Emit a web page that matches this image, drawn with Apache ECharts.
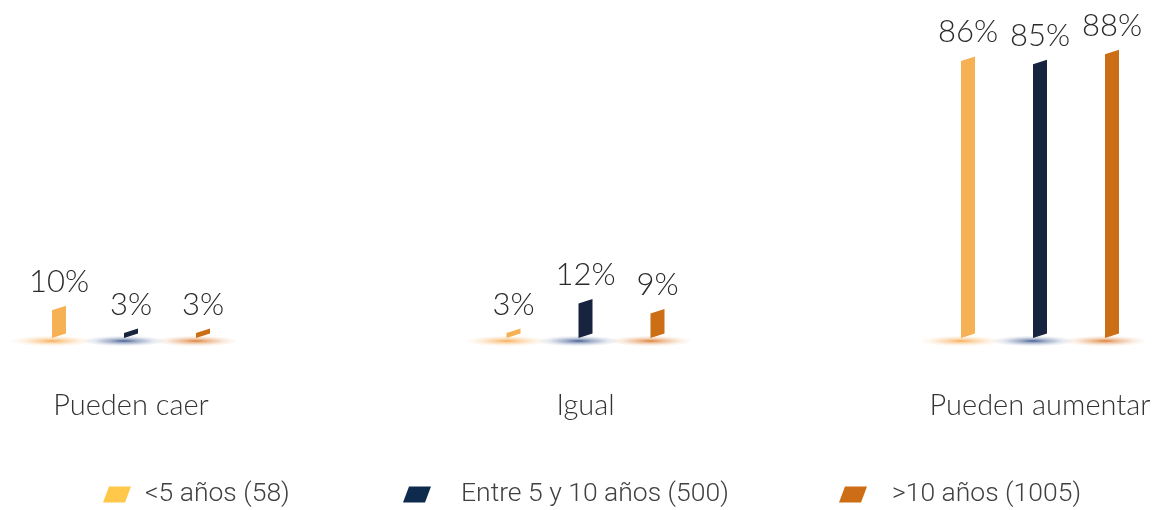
<!DOCTYPE html>
<html>
<head>
<meta charset="utf-8">
<script src="https://cdn.jsdelivr.net/npm/echarts@6/dist/echarts.min.js"></script>
<style>
  html, body { margin: 0; padding: 0; background: #ffffff; }
  #chart { width: 1161px; height: 510px; }
</style>
</head>
<body>
<div id="chart"></div>
<script>
// Expectativas por antigüedad del cliente
const categories = ['Pueden caer', 'Igual', 'Pueden aumentar'];
const seriesNames = ['<5 años (58)', 'Entre 5 y 10 años (500)', '>10 años (1005)'];
const menos5 = [10, 3, 86];
const entre5y10 = [3, 12, 85];
const mas10 = [3, 9, 88];

const Y_MIN = 1.5;
const Y_MAX = 100;
const BAR_W = 14;
const SKEW = 4.5;
const GROUP_OFFSETS = [-72, 0, 72];
const BAR_COLORS = ['#F6B155', '#17233F', '#CC6E15'];
const LEGEND_COLORS = ['#FFC84B', '#0E2A4D', '#CD6E16'];
const GLOW_RGB = ['245,160,60', '40,70,130', '215,110,25'];

const chart = echarts.init(document.getElementById('chart'), null, { renderer: 'canvas' });

function toPoints(values) {
  return values.map((v, i) => [i, v]);
}

function makeRender(idx) {
  const offset = GROUP_OFFSETS[idx];
  const color = BAR_COLORS[idx];
  const rgb = GLOW_RGB[idx];
  return function (params, api) {
    const cat = api.value(0);
    const v = api.value(1);
    const top = api.coord([cat, v]);
    const base = api.coord([cat, Y_MIN]);
    const xl = base[0] + offset - BAR_W / 2;
    const xr = xl + BAR_W;
    const yb = base[1];
    const yt = top[1];
    return {
      type: 'group',
      children: [
        {
          type: 'circle',
          silent: true,
          x: xl,
          y: yb + 3,
          scaleY: 0.13,
          shape: { cx: 0, cy: 0, r: 42 },
          style: {
            fill: new echarts.graphic.RadialGradient(0.5, 0.5, 0.5, [
              { offset: 0, color: 'rgba(' + rgb + ',0.85)' },
              { offset: 0.3, color: 'rgba(' + rgb + ',0.45)' },
              { offset: 0.7, color: 'rgba(' + rgb + ',0.12)' },
              { offset: 1, color: 'rgba(' + rgb + ',0)' }
            ])
          }
        },
        {
          type: 'polygon',
          shape: { points: [[xl, yb], [xr, yb - SKEW], [xr, yt - SKEW], [xl, yt]] },
          style: { fill: color }
        },
        {
          type: 'text',
          x: (xl + xr) / 2,
          y: yt - 13,
          style: {
            text: v + '%',
            fontFamily: 'Lato',
            fontWeight: 300,
            fontSize: 31,
            fill: '#2b2b2b',
            align: 'center',
            verticalAlign: 'bottom'
          }
        }
      ]
    };
  };
}

const seriesData = [menos5, entre5y10, mas10];
const legendLeft = [103, 403, 839];
const legendTextGap = [9, 25, 20];
const legendIcon = 'path://M6,0 L28,0 L22,16 L0,16 Z';

const option = {
  animation: false,
  grid: { left: 131, right: 121, top: 15, bottom: 172 },
  xAxis: {
    type: 'category',
    data: categories,
    boundaryGap: false,
    axisLine: { show: false },
    axisTick: { show: false },
    splitLine: { show: false },
    axisLabel: {
      margin: 53,
      fontFamily: 'Lato',
      fontWeight: 300,
      fontSize: 29,
      color: '#333333'
    }
  },
  yAxis: {
    type: 'value',
    min: Y_MIN,
    max: Y_MAX,
    show: false,
    splitLine: { show: false }
  },
  legend: seriesNames.map((name, i) => ({
    left: legendLeft[i],
    top: 481,
    padding: 0,
    itemWidth: 28,
    itemHeight: 16,
    icon: legendIcon,
    selectedMode: false,
    data: [{ name: name, itemStyle: { color: LEGEND_COLORS[i] } }],
    textStyle: {
      fontFamily: 'Roboto',
      fontWeight: 300,
      fontSize: 26.5,
      color: '#404040',
      padding: [2, 0, 0, legendTextGap[i]]
    }
  })),
  series: seriesData.map((vals, i) => ({
    name: seriesNames[i],
    type: 'custom',
    renderItem: makeRender(i),
    itemStyle: { color: LEGEND_COLORS[i] },
    data: toPoints(vals)
  }))
};

chart.setOption(option);
</script>
</body>
</html>
